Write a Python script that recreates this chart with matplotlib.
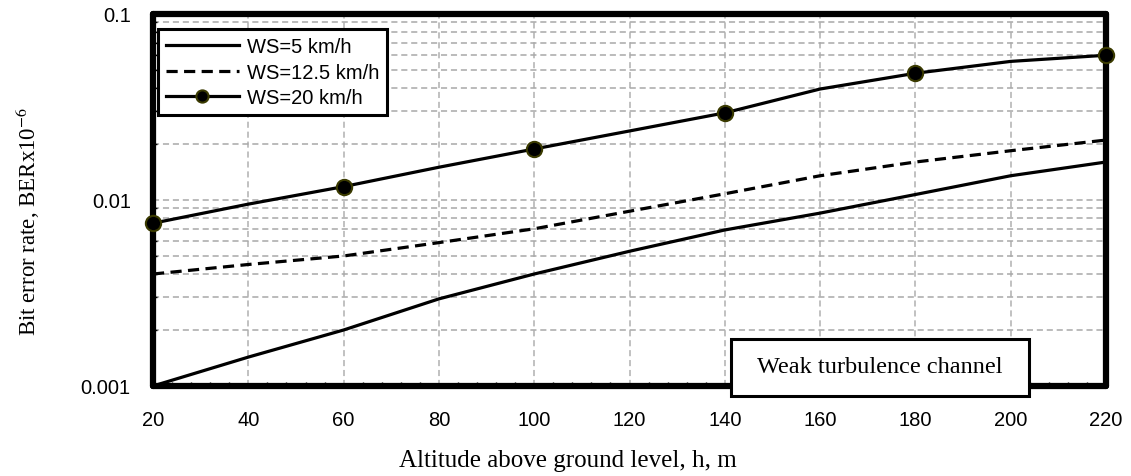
#!/usr/bin/env python3

import matplotlib
matplotlib.use('Agg')
import matplotlib.pyplot as plt
from matplotlib.patches import Rectangle
from matplotlib.ticker import FixedLocator, LogLocator, NullFormatter

# altitude above ground level, m
altitude = [20, 40, 60, 80, 100, 120, 140, 160, 180, 200, 220]
# BER for each wind speed
ber_ws5 = [0.001, 0.00143, 0.002, 0.00294, 0.0040, 0.0053, 0.0069, 0.0085,
           0.0107, 0.0135, 0.016]
ber_ws12 = [0.004, 0.0045, 0.005, 0.0059, 0.0070, 0.0087, 0.0108, 0.0135,
            0.016, 0.0184, 0.021]
ber_ws20 = [0.0075, 0.0095, 0.0118, 0.015, 0.0188, 0.0235, 0.0294, 0.0395,
            0.048, 0.0556, 0.060]
labels = ['WS=5 km/h', 'WS=12.5 km/h', 'WS=20 km/h']
xticks = [20, 40, 60, 80, 100, 120, 140, 160, 180, 200, 220]
yticks = [0.001, 0.01, 0.1]
ytick_labels = ['0.001', '0.01', '0.1']

sans = ['Liberation Sans', 'DejaVu Sans']
serif = ['Liberation Serif', 'DejaVu Serif']
plt.rcParams['mathtext.fontset'] = 'stix'

fig = plt.figure(figsize=(11.31, 4.77), dpi=100)
ax = fig.add_axes([0.1353, 0.1887, 0.8426, 0.7799])

ax.plot(altitude, ber_ws5, color='black', lw=2.3, label=labels[0], zorder=3)
ax.plot(altitude, ber_ws12, color='black', lw=2.3, ls=(0, (3.5, 2)),
        label=labels[1], zorder=3)
ax.plot(altitude, ber_ws20, color='black', lw=2.3, marker='o', markersize=11,
        markerfacecolor='black', markeredgecolor='#3a3a00', markeredgewidth=1.5,
        markevery=[0, 2, 4, 6, 8, 10], label=labels[2], zorder=4,
        clip_on=False)

ax.set_yscale('log')
ax.set_xlim(20, 220)
ax.set_ylim(0.001, 0.1)

ax.set_xticks(xticks)
ax.xaxis.set_minor_locator(FixedLocator(range(20, 221, 4)))
ax.set_yticks(yticks)
ax.set_yticklabels(ytick_labels)
ax.yaxis.set_minor_locator(LogLocator(base=10, subs=range(2, 10)))
ax.yaxis.set_minor_formatter(NullFormatter())

ax.tick_params(axis='both', which='both', direction='in', labelsize=14.5,
               color='black')
ax.tick_params(axis='x', which='major', length=0, pad=17)
ax.tick_params(axis='y', which='major', length=0, pad=16)
ax.tick_params(axis='both', which='minor', length=3, width=1)
for lbl in ax.get_xticklabels() + ax.get_yticklabels():
    lbl.set_family(sans)

ax.grid(True, axis='x', which='major', color='#b0b0b0', ls=(0, (4, 2.5)), lw=1.1)
ax.grid(True, axis='y', which='both', color='#a8a8a8', ls=(0, (4, 2.5)), lw=1.1)
ax.set_axisbelow(True)

for sp in ax.spines.values():
    sp.set_linewidth(4.5)
    sp.set_capstyle('round')

ax.set_xlabel('Altitude above ground level, h, m', family=serif, fontsize=18)
ax.xaxis.set_label_coords(0.4355, -0.17)
ax.set_ylabel(r'Bit error rate, BERx10$^{-6}$', family=serif, fontsize=16.5)
ax.yaxis.set_label_coords(-0.117, 0.446)

leg = ax.legend(loc='upper left', bbox_to_anchor=(0.0052, 0.9597),
                prop={'family': sans, 'size': 14.5},
                handlelength=3.6, handletextpad=0.4, borderpad=0.4,
                labelspacing=0.33, fancybox=False, framealpha=1,
                borderaxespad=0, markerscale=0.8)
leg.get_frame().set_edgecolor('black')
leg.get_frame().set_linewidth(2.2)

# annotation box
box = Rectangle((731 / 1131, 1 - 397 / 477), 298 / 1131, 57 / 477,
                transform=fig.transFigure, facecolor='white', edgecolor='black',
                lw=2.2, zorder=10)
fig.add_artist(box)
fig.text(880 / 1131, 1 - 368 / 477, 'Weak turbulence channel', family=serif,
         fontsize=17.5, ha='center', va='center', zorder=11)

fig.savefig('out.png', dpi=100)
